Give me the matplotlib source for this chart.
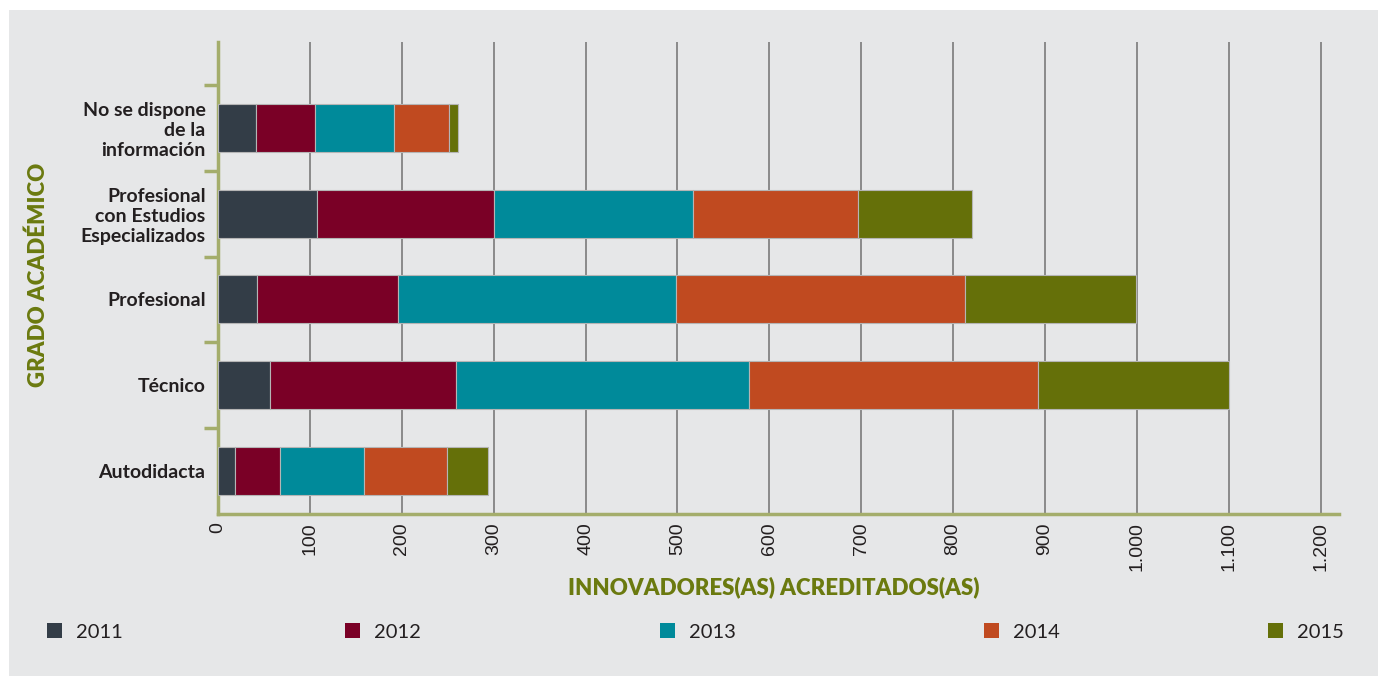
import numpy as np
import matplotlib
matplotlib.use('Agg')
import matplotlib.pyplot as plt
from matplotlib.patches import Rectangle, Patch
from matplotlib.ticker import FuncFormatter

# Categories (bottom to top) and yearly values
categories = ['Autodidacta', 'Técnico', 'Profesional',
              'Profesional\ncon Estudios\nEspecializados',
              'No se dispone\nde la\ninformación']
years = ['2011', '2012', '2013', '2014', '2015']
v2011 = [18, 57, 42, 108, 41]
v2012 = [49, 202, 154, 192, 65]
v2013 = [92, 319, 302, 217, 86]
v2014 = [90, 314, 315, 180, 59]
v2015 = [45, 208, 186, 124, 10]
series = [v2011, v2012, v2013, v2014, v2015]
colors = ['#333d47', '#7a0026', '#008a9a', '#c04a20', '#657009']

plt.rcParams['font.family'] = ['Lato', 'DejaVu Sans']
bg = '#e6e7e8'
olive_line = '#a4ad6b'
olive_text = '#6b7a0f'
txt = '#231f20'

fig = plt.figure(figsize=(13.8, 6.76), dpi=100)
fig.patch.set_facecolor('white')
fig.patches.append(Rectangle((9 / 1380, 0), 1369 / 1380, 1 - 10 / 676,
                             transform=fig.transFigure, facecolor=bg,
                             edgecolor='none', zorder=-10))

ax = fig.add_axes([218 / 1380, 1 - 514 / 676, (1339 - 218) / 1380, (514 - 42) / 676])
ax.set_facecolor(bg)

y = np.arange(len(categories))
left = np.zeros(len(categories))
for vals, col, yr in zip(series, colors, years):
    ax.barh(y, vals, left=left, height=0.56, color=col, edgecolor='#b5b5b5',
            linewidth=0.8, label=yr, zorder=3)
    left += np.array(vals)

ax.set_xlim(0, 1220)
ax.set_ylim(-0.5, 5.0)
ax.set_xticks(np.arange(0, 1201, 100))
ax.xaxis.set_major_formatter(FuncFormatter(lambda v, p: f'{int(v):,}'.replace(',', '.')))
ax.tick_params(axis='x', length=0, pad=6, labelsize=14, labelrotation=90, labelcolor=txt)
for lab in ax.get_xticklabels():
    lab.set_family(['Liberation Sans', 'DejaVu Sans'])
ax.grid(axis='x', color='#8a8a8a', linewidth=1.4, zorder=1)

ax.set_yticks(y)
ax.set_yticklabels(categories, fontsize=14, fontweight='bold', color=txt)
ax.set_yticks(np.arange(0.5, 5, 1), minor=True)
ax.tick_params(axis='y', which='major', length=0, pad=9)
ax.tick_params(axis='y', which='minor', length=10, width=2.5, color=olive_line)

for s in ['top', 'right']:
    ax.spines[s].set_visible(False)
for s in ['left', 'bottom']:
    ax.spines[s].set_color(olive_line)
    ax.spines[s].set_linewidth(2.5)

fig.text(774 / 1380, 1 - 587 / 676, 'INNOVADORES(AS) ACREDITADOS(AS)', ha='center', va='center',
         fontsize=16, fontweight='heavy', color=olive_text)
fig.text(38 / 1380, 1 - 275 / 676, 'GRADO ACADÉMICO', ha='center', va='center', rotation=90,
         fontsize=16, fontweight='heavy', color=olive_text)

# legend entries spread along the bottom (one small legend each)
legend_x = [47, 345, 660, 984, 1268]
for lx, col, yr in zip(legend_x, colors, years):
    leg = fig.legend(handles=[Patch(facecolor=col, label=yr)], loc='center left',
                     bbox_to_anchor=(lx / 1380, 1 - 632 / 676), frameon=False,
                     fontsize=14.5, handlelength=0.75, handleheight=0.75,
                     handletextpad=0.7, borderpad=0, borderaxespad=0, labelcolor=txt)

fig.savefig('out.png', dpi=100, facecolor='white')
